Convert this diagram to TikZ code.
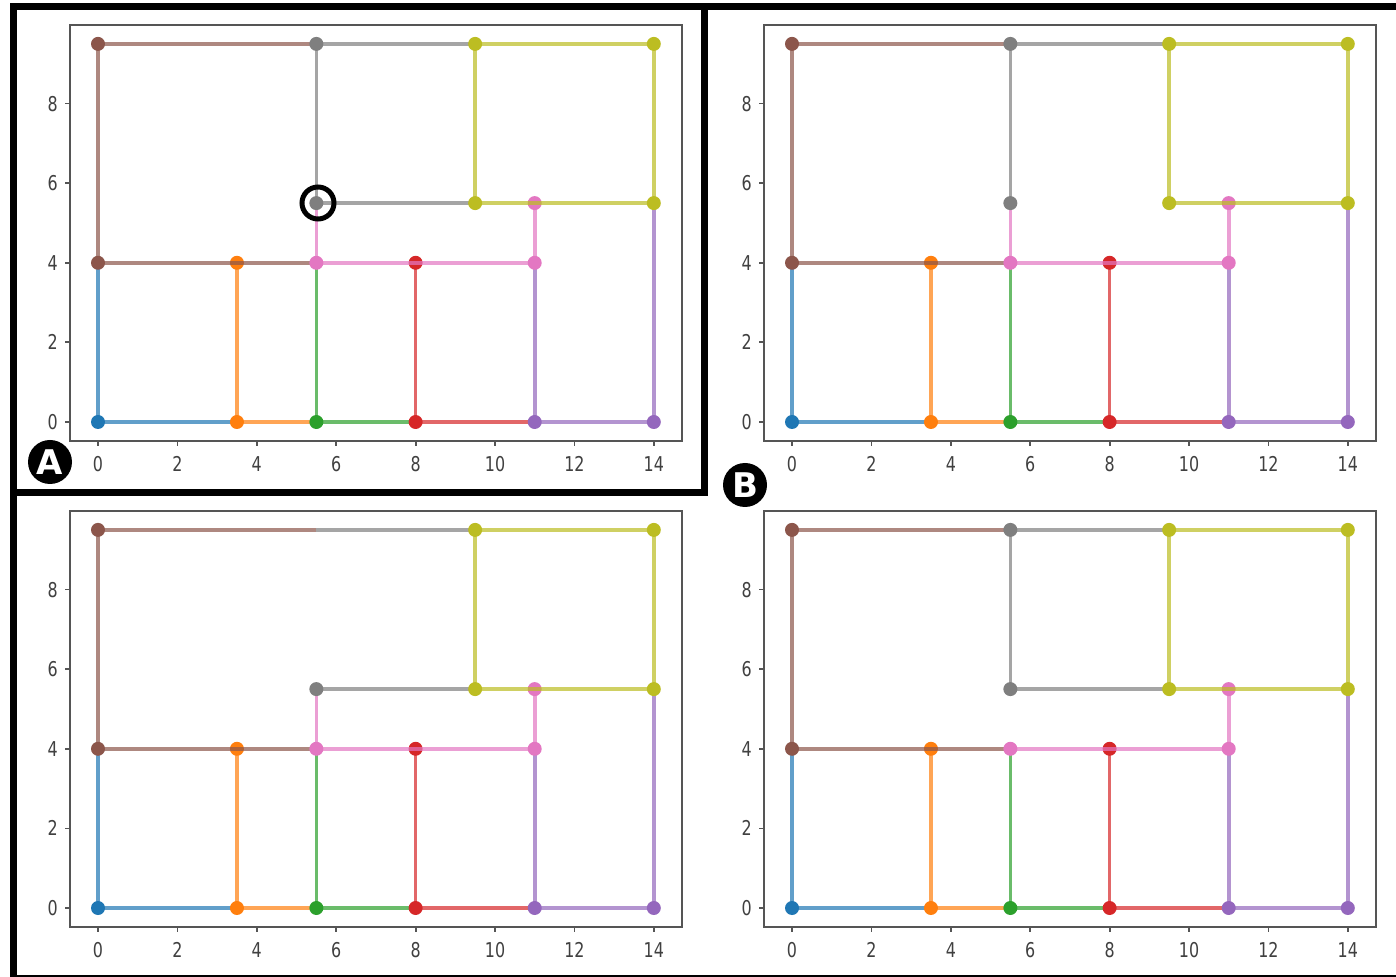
\documentclass[tikz,border=0pt]{standalone}
\usepackage{fontspec}
\setmainfont{DejaVu Sans}
\newfontfamily\tickfont[FakeStretch=0.78]{DejaVu Sans}
\definecolor{tblue}{HTML}{1F77B4}
\definecolor{torange}{HTML}{FF7F0E}
\definecolor{tgreen}{HTML}{2CA02C}
\definecolor{tred}{HTML}{D62728}
\definecolor{tpurple}{HTML}{9467BD}
\definecolor{tbrown}{HTML}{8C564B}
\definecolor{tpink}{HTML}{E377C2}
\definecolor{tgray}{HTML}{7F7F7F}
\definecolor{tolive}{HTML}{BCBD22}
\definecolor{axgray}{HTML}{555555}
\definecolor{tickgray}{HTML}{404040}
\tikzset{
  seg/.style={line width=1.8pt, draw opacity=0.7},
  axisline/.style={draw=axgray, line width=0.9pt},
  ticklab/.style={font=\tickfont\fontsize{10.2}{11}\selectfont, text=tickgray, inner sep=0pt},
  frameline/.style={draw=black, line width=3.5pt},
  badge/.style={circle, fill=black, text=white, inner sep=0pt, minimum size=22pt,
    font=\bfseries\fontsize{17}{17}\selectfont},
  highlight/.style={draw=black, line width=2.5pt}
}
\newcommand\dotr{3.5pt}
% #1,#2 pixel origin of data (0,0); #3 gray horizontal; #4 gray vertical; #5 pink vertical
\newcommand\plotpanel[5]{%
\begin{scope}[shift={(#1,#2)},x=19.85pt,y=19.9pt]
  \coordinate (q1) at (0,0);   \coordinate (q2) at (3.5,0); \coordinate (q3) at (5.5,0);
  \coordinate (q4) at (8,0);   \coordinate (q5) at (11,0);  \coordinate (q6) at (14,0);
  \coordinate (r1) at (0,4);   \coordinate (r2) at (3.5,4); \coordinate (r3) at (5.5,4);
  \coordinate (r4) at (8,4);   \coordinate (r5) at (11,4);
  \coordinate (s1) at (5.5,5.5); \coordinate (s2) at (9.5,5.5);
  \coordinate (s3) at (11,5.5);  \coordinate (s4) at (14,5.5);
  \coordinate (t1) at (0,9.5); \coordinate (t2) at (5.5,9.5);
  \coordinate (t3) at (9.5,9.5); \coordinate (t4) at (14,9.5);
  \draw[axisline] (-0.7,-0.475) rectangle (14.7,9.975);
  \foreach \t in {0,2,...,14}{
    \draw[axisline] (\t,-0.475) -- ++(0pt,-2.5pt);
    \path (\t,-0.475) ++(0pt,-11.5pt) node[ticklab] {\t};
  }
  \foreach \t in {0,2,4,6,8}{
    \draw[axisline] (-0.7,\t) -- ++(-2.5pt,0pt);
    \path (-0.7,\t) ++(-6pt,0pt) node[ticklab, anchor=east] {\t};
  }
  % blue
  \draw[seg,tblue] (r1) -- (q1) -- (q2);
  \fill[tblue] (q1) circle[radius=\dotr];
  % orange
  \draw[seg,torange] (r2) -- (q2) -- (q3);
  \fill[torange] (q2) circle[radius=\dotr] (r2) circle[radius=\dotr];
  % green
  \draw[seg,tgreen] (r3) -- (q3) -- (q4);
  \fill[tgreen] (q3) circle[radius=\dotr];
  % red
  \draw[seg,tred] (r4) -- (q4) -- (q5);
  \fill[tred] (q4) circle[radius=\dotr] (r4) circle[radius=\dotr];
  % purple
  \draw[seg,tpurple] (r5) -- (q5) -- (q6) -- (s4);
  \fill[tpurple] (q5) circle[radius=\dotr] (q6) circle[radius=\dotr];
  % brown
  \draw[seg,tbrown] (r3) -- (r1) -- (t1) -- (t2);
  \fill[tbrown] (r1) circle[radius=\dotr] (t1) circle[radius=\dotr];
  % pink
  \draw[seg,tpink] (r3) -- (r5) -- (s3);
  \ifnum#5=1 \draw[seg,tpink] (r3) -- (s1);\fi
  \fill[tpink] (r3) circle[radius=\dotr] (r5) circle[radius=\dotr] (s3) circle[radius=\dotr];
  % gray
  \draw[seg,tgray] (t2) -- (t3);
  \ifnum#4=1 \draw[seg,tgray] (t2) -- (s1);\fi
  \ifnum#3=1 \draw[seg,tgray] (s1) -- (s2);\fi
  \fill[tgray] (s1) circle[radius=\dotr];
  \ifnum#4=1 \fill[tgray] (t2) circle[radius=\dotr];\fi
  % olive
  \draw[seg,tolive] (s2) -- (t3) -- (t4) -- (s4) -- cycle;
  \fill[tolive] (s2) circle[radius=\dotr] (t3) circle[radius=\dotr]
    (t4) circle[radius=\dotr] (s4) circle[radius=\dotr];
\end{scope}}
\begin{document}
\begin{tikzpicture}[x=0.5pt,y=-0.5pt]
\useasboundingbox (0,0) rectangle (1396,977);
\fill[white] (0,0) rectangle (1396,977);
\plotpanel{98}{422}{1}{1}{1}
\plotpanel{792}{422}{0}{1}{1}
\plotpanel{98}{908}{1}{0}{1}
\plotpanel{792}{908}{1}{1}{0}
% highlight circle in panel A
\coordinate (hl) at (318,203);
\draw[highlight] (hl) circle[radius=8pt];
% frame
\coordinate (f1) at (13.5,6.5);
\coordinate (f2) at (704,492.5);
\coordinate (f3) at (1396,6.5);
\coordinate (f4) at (13.5,977);
\coordinate (f5) at (13.5,976);
\coordinate (f6) at (1396,976);
\draw[frameline] (f1) rectangle (f2);
\draw[frameline] (704,6.5) -- (f3);
\draw[frameline] (13.5,492.5) -- (f4);
\draw[draw=black, line width=1pt] (f5) -- (f6);
% badges
\node[badge] (labA) at (50,462) {A};
\node[badge] (labB) at (745,485) {B};
\end{tikzpicture}
\end{document}
